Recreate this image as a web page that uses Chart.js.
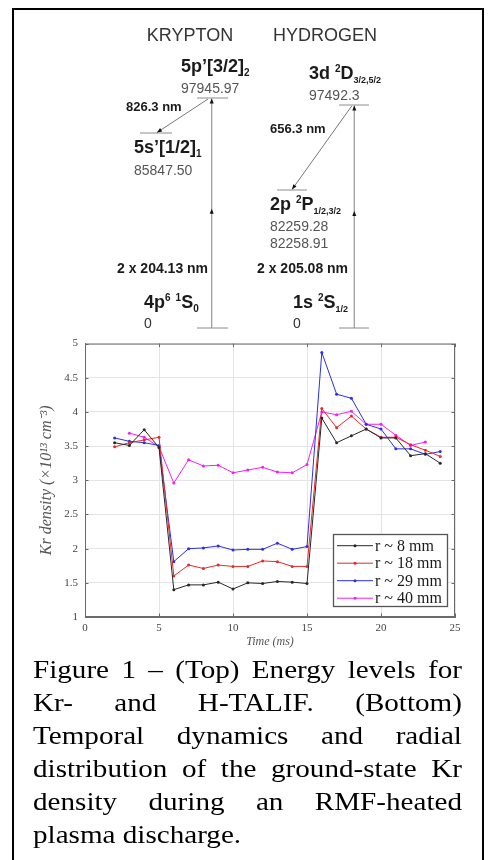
<!DOCTYPE html>
<html><head><meta charset="utf-8">
<script src="https://cdn.jsdelivr.net/npm/chart.js@4.4.0/dist/chart.umd.min.js"></script>
<style>
html,body{margin:0;padding:0;background:#fff;}
body{width:489px;height:860px;position:relative;overflow:hidden;}
#frame{position:absolute;left:12px;top:8px;width:472px;height:900px;border:2px solid #000;box-sizing:border-box;}
#diagram{position:absolute;left:0;top:0;}
#plot{position:absolute;left:0;top:330px;}
.t{position:absolute;white-space:nowrap;font-family:'Liberation Sans',Arial,sans-serif;line-height:1;}
.sb{font-size:10px;position:relative;top:4px;}
.sp{font-size:10px;position:relative;top:-7px;}
#caption{position:absolute;left:33px;top:653px;width:383px;font-family:'Liberation Serif','Times New Roman',serif;font-size:26px;line-height:33px;color:#000;transform:scaleX(1.12);transform-origin:0 0;}
#caption div{text-align:justify;text-align-last:justify;white-space:nowrap;}
#caption div.last{text-align:left;text-align-last:left;}
</style></head>
<body>
<div id="frame"></div>
<canvas id="diagram" width="489" height="330"></canvas>
<canvas id="plot" width="489" height="330"></canvas>
<div id="labels"></div>
<div id="caption"></div>
<script>
// ---------- Chart data ----------
const time = [2,3,4,5,6,7,8,9,10,11,12,13,14,15,16,17,18,19,20,21,22,23,24];
const r8  = [3.55,3.51,3.74,3.48,1.40,1.47,1.47,1.51,1.41,1.50,1.49,1.52,1.51,1.49,3.91,3.55,3.65,3.75,3.62,3.62,3.36,3.39,3.25];
const r18 = [3.49,3.55,3.59,3.63,1.60,1.76,1.71,1.76,1.74,1.74,1.82,1.81,1.74,1.74,4.05,3.77,3.94,3.75,3.63,3.63,3.52,3.44,3.35];
const r29 = [3.62,3.57,3.55,3.51,1.81,2.00,2.01,2.04,1.98,1.99,1.99,2.08,1.99,2.03,4.87,4.26,4.20,3.82,3.75,3.46,3.46,3.38,3.42];
const time40 = [3,4,5,6,7,8,9,10,11,12,13,14,15,16,17,18,19,20,21,22,23];
const r40 = [3.69,3.63,3.49,2.96,3.30,3.21,3.22,3.11,3.15,3.19,3.12,3.11,3.23,4.00,3.96,4.01,3.82,3.82,3.66,3.51,3.56];
const seriesLabels = ['r ~ 8 mm','r ~ 18 mm','r ~ 29 mm','r ~ 40 mm'];
const xTicks = [0,5,10,15,20,25];
const yTicks = [1,1.5,2,2.5,3,3.5,4,4.5,5];
const xTitle = 'Time (ms)';
const yTitle = 'Kr density (×10¹³ cm⁻³)';

// ---------- Energy-level diagram content ----------
const atoms = ['KRYPTON','HYDROGEN'];
const krLevelNames = ["5p’[3/2]<span class='sb'>2</span>", "5s’[1/2]<span class='sb'>1</span>", "4p<span class='sp'>6</span> <span class='sp'>1</span>S<span class='sb'>0</span>"];
const krEnergies = ['97945.97','85847.50','0'];
const hLevelNames = ["3d <span class='sp'>2</span>D<span class='sb' style='font-size:9px'>3/2,5/2</span>", "2p <span class='sp'>2</span>P<span class='sb' style='font-size:9px'>1/2,3/2</span>", "1s <span class='sp'>2</span>S<span class='sb' style='font-size:9px'>1/2</span>"];
const hEnergies = ['97492.3','82259.28<br>82258.91','0'];
const wavelengths = ['826.3 nm','2 x 204.13 nm','656.3 nm','2 x 205.08 nm'];

const captionLines = [
 'Figure 1 – (Top) Energy levels for',
 'Kr- and H-TALIF. (Bottom)',
 'Temporal dynamics and radial',
 'distribution of the ground-state Kr',
 'density during an RMF-heated',
 'plasma discharge.'
];

// ---------- layout (schematic positions, not data) ----------
const lvlLayout = {
  kr:[{x1:197,x2:228,y:98},{x1:140,x2:172,y:133},{x1:197,x2:228,y:328}],
  h:[{x1:339,x2:369,y:105},{x1:277,x2:307,y:190},{x1:339,x2:369,y:328}]
};
const transLayout = [
  {from:[211.7,328],to:[211.7,98.5],heads:[0.52,1],color:'#a0a0a0',w:1.3},
  {from:[208,99],to:[157,132.5],heads:[1],color:'#777',w:1},
  {from:[354.3,328],to:[354.3,105.5],heads:[0.526,1],color:'#a0a0a0',w:1.3},
  {from:[351.7,106],to:[292,189.5],heads:[1],color:'#777',w:1}
];

Chart.defaults.devicePixelRatio = 1;
Chart.defaults.animation = false;

// ---- diagram datasets
const dDatasets = [];
[...lvlLayout.kr, ...lvlLayout.h].forEach(l => dDatasets.push({
  data:[{x:l.x1,y:l.y},{x:l.x2,y:l.y}], showLine:true, borderColor:'#8c8c8c', borderWidth:1, pointRadius:0
}));
transLayout.forEach(t => dDatasets.push({
  data:[{x:t.from[0],y:t.from[1]},{x:t.to[0],y:t.to[1]}], showLine:true, borderColor:t.color, borderWidth:t.w, pointRadius:0, heads:t.heads
}));

const arrowPlugin = {
  id:'arrows',
  afterDatasetsDraw(chart){
    const ctx = chart.ctx, xs = chart.scales.x, ys = chart.scales.y;
    chart.data.datasets.forEach(ds => {
      if(!ds.heads) return;
      const x0 = xs.getPixelForValue(ds.data[0].x), y0 = ys.getPixelForValue(ds.data[0].y);
      const x1 = xs.getPixelForValue(ds.data[1].x), y1 = ys.getPixelForValue(ds.data[1].y);
      const dx = x1-x0, dy = y1-y0, len = Math.hypot(dx,dy), ux = dx/len, uy = dy/len;
      ds.heads.forEach(f => {
        const px = x0+dx*f, py = y0+dy*f, L = 5, W = 2;
        ctx.save(); ctx.fillStyle = '#111';
        ctx.beginPath();
        ctx.moveTo(px,py);
        ctx.lineTo(px-ux*L-uy*W, py-uy*L+ux*W);
        ctx.lineTo(px-ux*L+uy*W, py-uy*L-ux*W);
        ctx.closePath(); ctx.fill(); ctx.restore();
      });
    });
  }
};

new Chart(document.getElementById('diagram'), {
  type:'scatter',
  data:{datasets:dDatasets},
  options:{
    responsive:false, layout:{padding:0},
    plugins:{legend:{display:false}, tooltip:{enabled:false}},
    scales:{x:{type:'linear',min:0,max:489,display:false}, y:{type:'linear',min:0,max:330,reverse:true,display:false}}
  },
  plugins:[arrowPlugin]
});

// ---- diagram text labels (real text)
const textLayout = [
  {html:atoms[0], x:190, base:41, size:18, bold:false, color:'#333', center:true},
  {html:atoms[1], x:325, base:41, size:18, bold:false, color:'#333', center:true},
  {html:krLevelNames[0], x:181, base:72, size:18, bold:true, color:'#1a1a1a'},
  {html:krEnergies[0], x:181, base:93, size:14, bold:false, color:'#555'},
  {html:wavelengths[0], x:126, base:111, size:13, bold:true, color:'#1a1a1a'},
  {html:krLevelNames[1], x:134, base:153, size:18, bold:true, color:'#1a1a1a'},
  {html:krEnergies[1], x:134, base:175, size:14, bold:false, color:'#555'},
  {html:wavelengths[1], x:117, base:273, size:14, bold:true, color:'#1a1a1a'},
  {html:krLevelNames[2], x:144, base:308, size:18, bold:true, color:'#1a1a1a'},
  {html:krEnergies[2], x:144, base:328, size:14, bold:false, color:'#333'},
  {html:hLevelNames[0], x:309, base:79, size:18, bold:true, color:'#1a1a1a'},
  {html:hEnergies[0], x:309, base:100, size:14, bold:false, color:'#555'},
  {html:wavelengths[2], x:270, base:133, size:13, bold:true, color:'#1a1a1a'},
  {html:hLevelNames[1], x:270, base:210, size:18, bold:true, color:'#1a1a1a'},
  {html:hEnergies[1], x:270, base:231, size:14, bold:false, color:'#555', lh:17},
  {html:wavelengths[3], x:257, base:273, size:14, bold:true, color:'#1a1a1a'},
  {html:hLevelNames[2], x:293, base:308, size:18, bold:true, color:'#1a1a1a'},
  {html:hEnergies[2], x:293, base:328, size:14, bold:false, color:'#333'}
];
const lab = document.getElementById('labels');
textLayout.forEach(t => {
  const d = document.createElement('div');
  d.className = 't';
  d.innerHTML = t.html;
  d.style.fontSize = t.size+'px';
  d.style.fontWeight = t.bold ? 'bold' : 'normal';
  d.style.color = t.color;
  if (t.lh) { d.style.lineHeight = t.lh+'px'; d.style.top = (t.base - (t.lh - 1.117*t.size)/2 - 0.905*t.size)+'px'; }
  else d.style.top = (t.base - 0.8465*t.size)+'px';
  d.style.left = t.x+'px';
  if (t.center) d.style.transform = 'translateX(-50%)';
  lab.appendChild(d);
});

// ---- caption
const cap = document.getElementById('caption');
captionLines.forEach((l,i) => {
  const d = document.createElement('div');
  d.textContent = l;
  if (i === captionLines.length-1) d.className = 'last';
  cap.appendChild(d);
});

// ---- main chart
const serif = "'Liberation Serif','Times New Roman',serif";
const colors = ['rgb(40,40,40)','rgb(235,40,40)','rgb(45,45,235)','rgb(245,30,245)'];
const seriesX = [time, time, time, time40];
const seriesY = [r8, r18, r29, r40];
const datasets = seriesY.map((ys,i) => ({
  label: seriesLabels[i],
  data: ys.map((v,j) => ({x:seriesX[i][j], y:v})),
  borderColor: colors[i], backgroundColor: colors[i],
  borderWidth: 1, pointRadius: 1.5, pointBorderWidth: 0, showLine: true, tension: 0
}));

const boxPlugin = {
  id:'boxTicks',
  afterDatasetsDraw(chart){
    const {ctx, chartArea:a, scales:{x,y}} = chart;
    ctx.save();
    ctx.strokeStyle = '#6a6a6a'; ctx.lineWidth = 1;
    ctx.strokeRect(a.left+0.5, a.top+0.5, a.right-a.left-1, a.bottom-a.top-1);
    const tl = 3.5;
    ctx.beginPath();
    xTicks.forEach(v => { const px = Math.round(x.getPixelForValue(v))+0.5;
      ctx.moveTo(px,a.bottom); ctx.lineTo(px,a.bottom-tl); ctx.moveTo(px,a.top); ctx.lineTo(px,a.top+tl); });
    yTicks.forEach(v => { const py = Math.round(y.getPixelForValue(v))+0.5;
      ctx.moveTo(a.left,py); ctx.lineTo(a.left+tl,py); ctx.moveTo(a.right,py); ctx.lineTo(a.right-tl,py); });
    ctx.stroke();
    // legend box
    const bw = 114, bh = 72;
    const bx = a.right - 8 - bw, by = a.bottom - 11 - bh;
    ctx.fillStyle = '#fff';
    ctx.fillRect(bx, by, bw, bh);
    ctx.strokeStyle = '#555'; ctx.lineWidth = 1.3;
    ctx.strokeRect(bx+0.5, by+0.5, bw, bh);
    ctx.font = '16px ' + serif; ctx.textBaseline = 'middle'; ctx.textAlign = 'left';
    chart.data.datasets.forEach((ds,i) => {
      const ry = by + 11.7 + i*17.5;
      ctx.strokeStyle = ds.borderColor; ctx.lineWidth = 1;
      ctx.beginPath(); ctx.moveTo(bx+4, ry); ctx.lineTo(bx+40, ry); ctx.stroke();
      ctx.fillStyle = ds.borderColor;
      ctx.beginPath(); ctx.arc(bx+22, ry, 1.5, 0, Math.PI*2); ctx.fill();
      ctx.fillStyle = '#1a1a1a';
      ctx.fillText(ds.label, bx+42, ry+1);
    });
    ctx.restore();
  }
};

new Chart(document.getElementById('plot'), {
  type:'scatter',
  data:{datasets},
  options:{
    responsive:false,
    layout:{padding:{left:0, top:11, right:34, bottom:0}},
    plugins:{legend:{display:false}, tooltip:{enabled:false}},
    scales:{
      x:{type:'linear', min:0, max:25,
         afterBuildTicks(s){ s.ticks = xTicks.map(v=>({value:v})); },
         afterFit(s){ s.height = 43; },
         ticks:{font:{family:serif,size:11}, color:'#444', padding:4.4, callback:v => String(v)},
         grid:{color:'#e4e4e4', drawTicks:false},
         border:{color:'#6a6a6a'},
         title:{display:true, text:xTitle, font:{family:serif,size:12,style:'italic'}, color:'#555', padding:{top:0,bottom:11}}
      },
      y:{type:'linear', min:1, max:5,
         afterBuildTicks(s){ s.ticks = yTicks.map(v=>({value:v})); },
         afterFit(s){ s.width = 85; },
         ticks:{font:{family:serif,size:11}, color:'#444', padding:7, callback:v => String(v)},
         grid:{color:'#e4e4e4', drawTicks:false},
         border:{color:'#6a6a6a'},
         title:{display:true, text:yTitle, font:{family:serif,size:16,style:'italic'}, color:'#555', padding:{top:37.4,bottom:0}}
      }
    }
  },
  plugins:[boxPlugin]
});
</script>
</body></html>
